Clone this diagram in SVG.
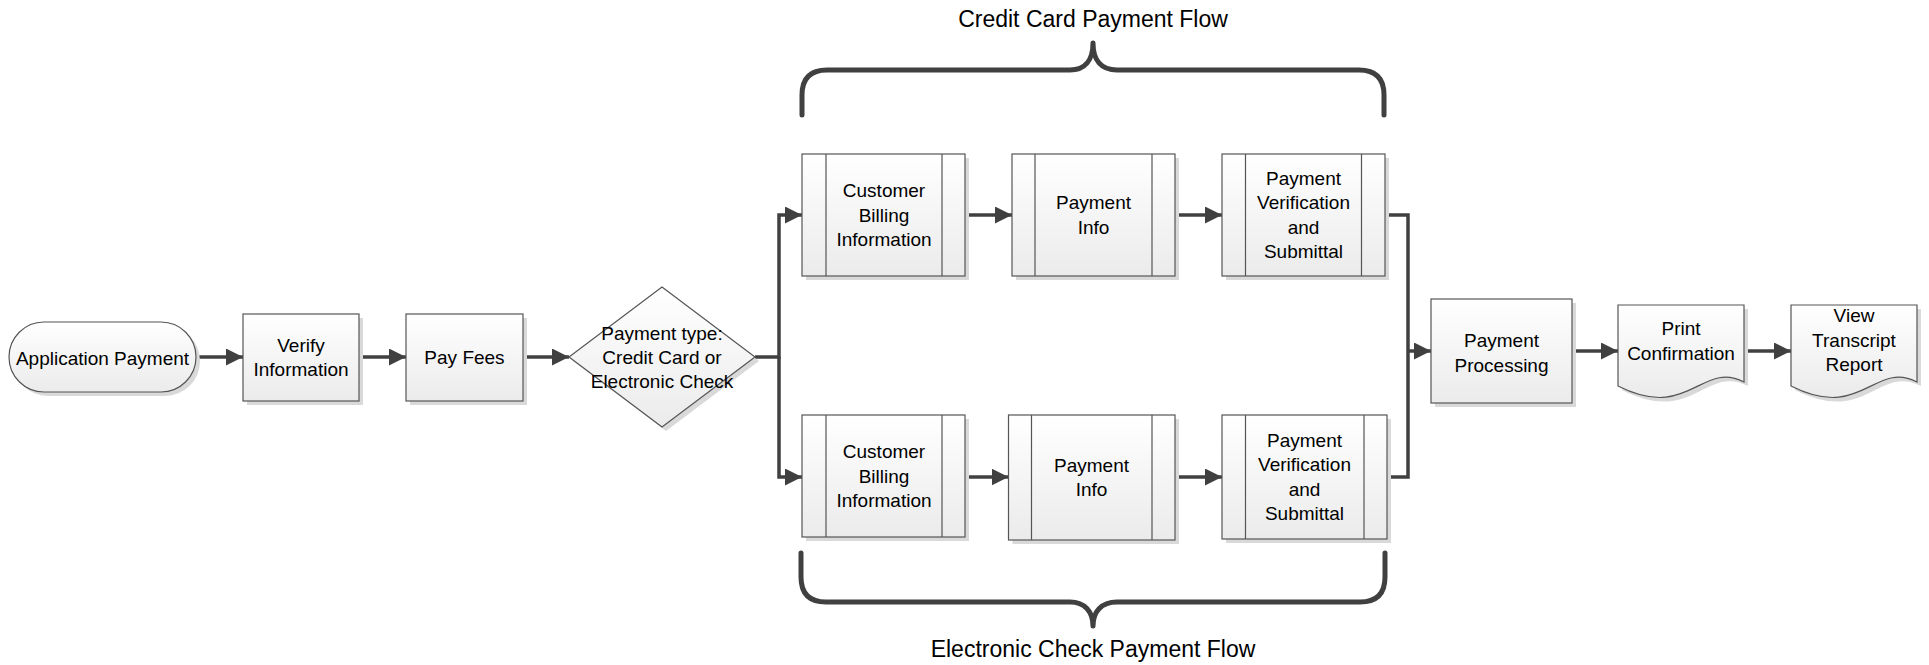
<svg xmlns="http://www.w3.org/2000/svg" width="1929" height="665" viewBox="0 0 1929 665">
<defs>
<linearGradient id="fillg" x1="0" y1="0" x2="0" y2="1">
<stop offset="0" stop-color="#ffffff"/>
<stop offset="1" stop-color="#ebebeb"/>
</linearGradient>
<marker id="arr" markerUnits="userSpaceOnUse" markerWidth="18" markerHeight="18" refX="17" refY="8.5" orient="auto">
<path d="M0,0 L17,8.5 L0,17 z" fill="#404040"/>
</marker>
</defs>
<style>
.sh{fill:#d9d9d9;stroke:none}
.nd{fill:url(#fillg);stroke:#555555;stroke-width:1.2}
.ln{stroke:#555555;stroke-width:1.2;fill:none}
.cn{stroke:#404040;stroke-width:3.5;fill:none;marker-end:url(#arr)}
.cl{stroke:#404040;stroke-width:3.5;fill:none}
.br{stroke:#404040;stroke-width:5;fill:none;stroke-linecap:round;stroke-linejoin:round}
text{font-family:"Liberation Sans",Arial,sans-serif;font-size:19px;fill:#000;text-anchor:middle}
.ttl{font-size:23px}
</style>
<rect width="1929" height="665" fill="#ffffff"/>

<g id="connectors">
<path class="cn" d="M196,357 H243"/>
<path class="cn" d="M359,357 H406"/>
<path class="cn" d="M523,357 H569"/>
<path class="cn" d="M755,357 H779 V215 H802"/>
<path class="cn" d="M779,357 V477 H802"/>
<path class="cn" d="M965,215 H1012"/>
<path class="cn" d="M1175,215 H1222"/>
<path class="cn" d="M965,477 H1008.5"/>
<path class="cn" d="M1175,477 H1222"/>
<path class="cl" d="M1385,215 H1408 V477 H1387"/>
<path class="cn" d="M1408,351 H1431"/>
<path class="cn" d="M1572,351 H1618"/>
<path class="cn" d="M1744,351 H1791"/>
</g>

<g id="brace-top">
<path class="br" d="M802,115 V95 Q802,70 827,70 H1070 C1085,70 1093,60 1093,43 C1093,60 1101,70 1117,70 H1359 Q1384,70 1384,95 V115"/>
<text class="ttl" x="1093" y="27">Credit Card Payment Flow</text>
</g>
<g id="brace-bottom">
<path class="br" d="M801,553 V577 Q801,602 826,602 H1070 C1085,602 1093,612 1093,626 C1093,612 1101,602 1117,602 H1360 Q1385,602 1385,577 V553"/>
<text class="ttl" x="1093" y="657">Electronic Check Payment Flow</text>
</g>

<g id="start">
<rect class="sh" x="13" y="326" width="187" height="70" rx="35"/>
<rect class="nd" x="9" y="322" width="187" height="70" rx="35"/>
<text x="102.5" y="364.5">Application Payment</text>
</g>
<g id="verify">
<rect class="sh" x="247" y="318" width="116" height="87"/>
<rect class="nd" x="243" y="314" width="116" height="87"/>
<text x="301" y="352">Verify</text>
<text x="301" y="376">Information</text>
</g>
<g id="payfees">
<rect class="sh" x="410" y="318" width="117" height="87"/>
<rect class="nd" x="406" y="314" width="117" height="87"/>
<text x="464.5" y="364">Pay Fees</text>
</g>
<g id="decision">
<path class="sh" d="M666,291 L759,361 L666,431 L573,361 z"/>
<path class="nd" d="M662,287 L755,357 L662,427 L569,357 z"/>
<text x="662" y="339.5">Payment type:</text>
<text x="662" y="363.5">Credit Card or</text>
<text x="662" y="387.5">Electronic Check</text>
</g>

<g id="cc-billing">
<rect class="sh" x="806" y="158" width="163" height="122"/>
<rect class="nd" x="802" y="154" width="163" height="122"/>
<path class="ln" d="M826,154 V276 M942,154 V276"/>
<text x="884" y="197">Customer</text>
<text x="884" y="221.5">Billing</text>
<text x="884" y="246">Information</text>
</g>
<g id="cc-payinfo">
<rect class="sh" x="1016" y="158" width="163" height="122"/>
<rect class="nd" x="1012" y="154" width="163" height="122"/>
<path class="ln" d="M1035,154 V276 M1152,154 V276"/>
<text x="1093.5" y="209">Payment</text>
<text x="1093.5" y="233.5">Info</text>
</g>
<g id="cc-verify">
<rect class="sh" x="1226" y="158" width="163" height="122"/>
<rect class="nd" x="1222" y="154" width="163" height="122"/>
<path class="ln" d="M1245.5,154 V276 M1361.5,154 V276"/>
<text x="1303.5" y="184.5">Payment</text>
<text x="1303.5" y="209">Verification</text>
<text x="1303.5" y="233.5">and</text>
<text x="1303.5" y="258">Submittal</text>
</g>

<g id="ec-billing">
<rect class="sh" x="806" y="419" width="163" height="122"/>
<rect class="nd" x="802" y="415" width="163" height="122"/>
<path class="ln" d="M826,415 V537 M942,415 V537"/>
<text x="884" y="458">Customer</text>
<text x="884" y="482.5">Billing</text>
<text x="884" y="507">Information</text>
</g>
<g id="ec-payinfo">
<rect class="sh" x="1012.5" y="419" width="166.5" height="125"/>
<rect class="nd" x="1008.5" y="415" width="166.5" height="125"/>
<path class="ln" d="M1031.5,415 V540 M1152,415 V540"/>
<text x="1091.5" y="471.5">Payment</text>
<text x="1091.5" y="496">Info</text>
</g>
<g id="ec-verify">
<rect class="sh" x="1226" y="419" width="165" height="124"/>
<rect class="nd" x="1222" y="415" width="165" height="124"/>
<path class="ln" d="M1245.5,415 V539 M1364,415 V539"/>
<text x="1304.5" y="446.5">Payment</text>
<text x="1304.5" y="471">Verification</text>
<text x="1304.5" y="495.5">and</text>
<text x="1304.5" y="520">Submittal</text>
</g>

<g id="processing">
<rect class="sh" x="1435" y="303" width="141" height="104"/>
<rect class="nd" x="1431" y="299" width="141" height="104"/>
<text x="1501.5" y="347">Payment</text>
<text x="1501.5" y="371.5">Processing</text>
</g>
<g id="print">
<path class="sh" d="M1622,309 H1748 V386 C1705,364 1693,426 1622,390 z"/>
<path class="nd" d="M1618,305 H1744 V382 C1701,360 1689,422 1618,386 z"/>
<text x="1681" y="335">Print</text>
<text x="1681" y="359.5">Confirmation</text>
</g>
<g id="transcript">
<path class="sh" d="M1795,309 H1921 V386 C1878,364 1866,426 1795,390 z"/>
<path class="nd" d="M1791,305 H1917 V382 C1874,360 1862,422 1791,386 z"/>
<text x="1854" y="322">View</text>
<text x="1854" y="346.5">Transcript</text>
<text x="1854" y="371">Report</text>
</g>
</svg>
